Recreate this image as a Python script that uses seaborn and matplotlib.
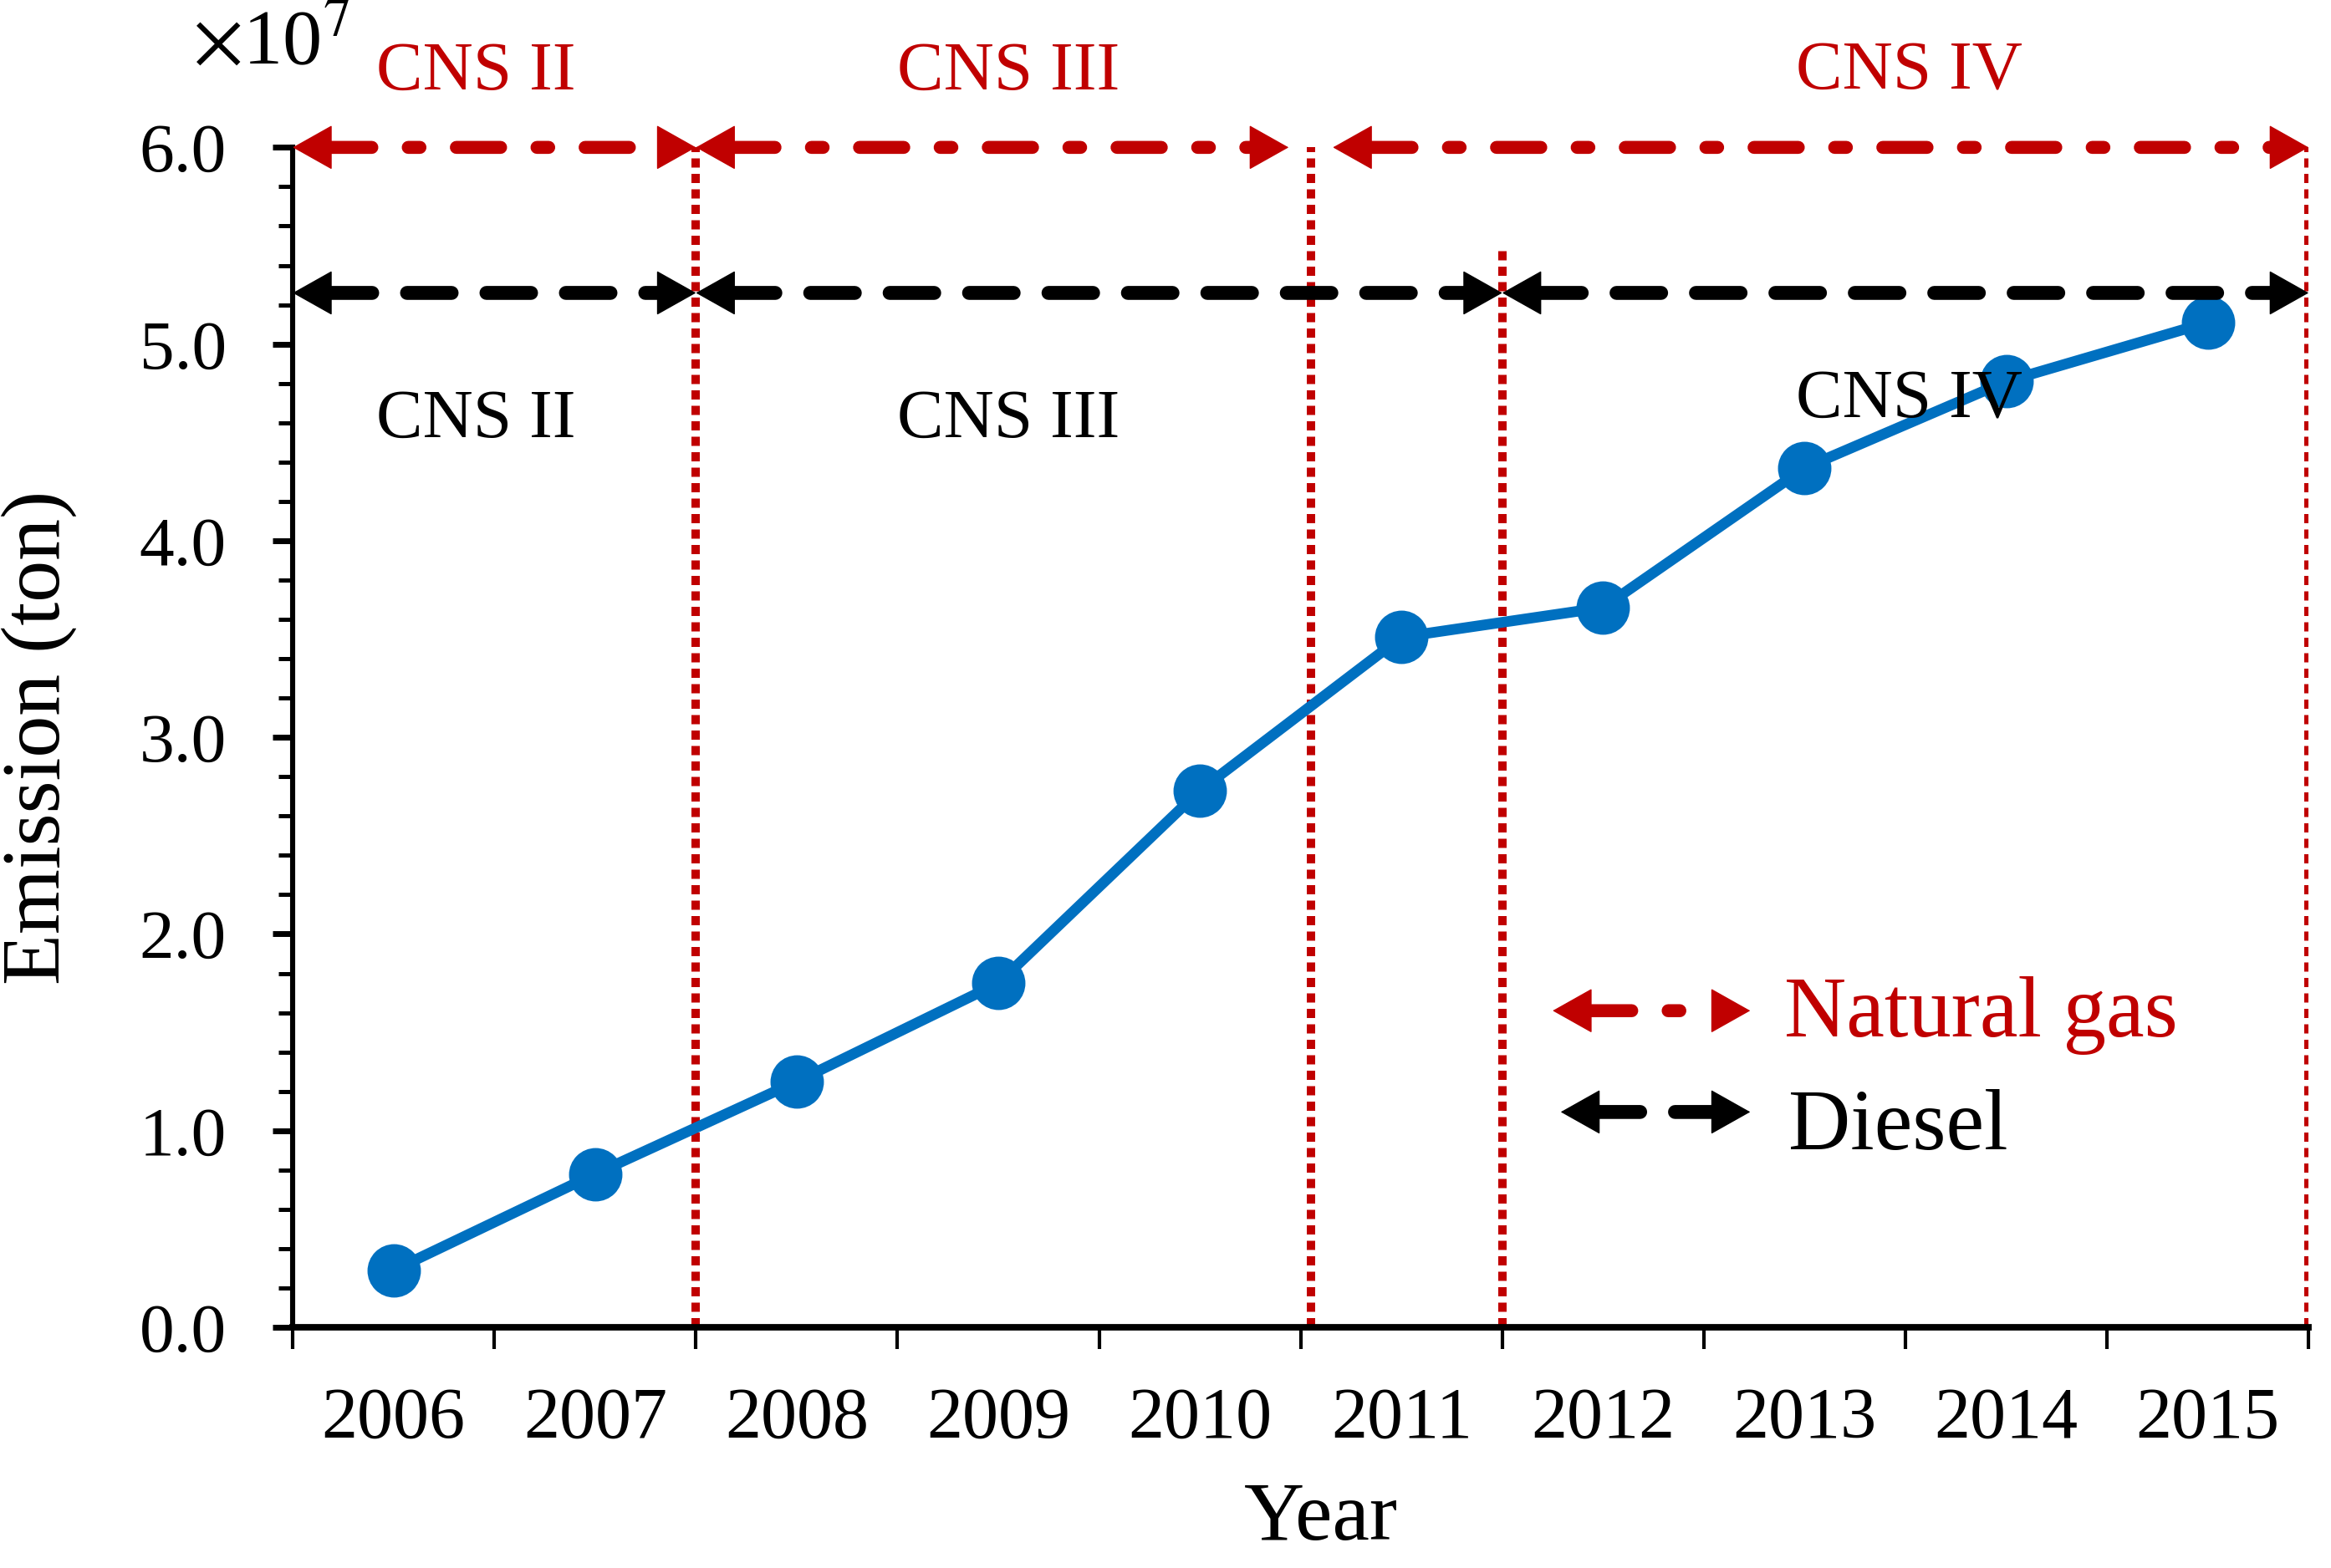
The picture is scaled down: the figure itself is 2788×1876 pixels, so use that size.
import numpy as np
import pandas as pd
import matplotlib.pyplot as plt
import seaborn as sns

# ----------------------------
# DATA
# ----------------------------

years = ['2006', '2007', '2008', '2009', '2010',
         '2011', '2012', '2013', '2014', '2015']
emission = [0.29, 0.78, 1.25, 1.75, 2.73, 3.51, 3.66, 4.37, 4.81, 5.11]  # x 10^7 ton

stages = ['CNS II', 'CNS III', 'CNS IV']
stage_label_x = [0.41, 3.05, 7.52]

# stage boundaries in year-slot units (between two years = x.5)
gas_bounds = [-0.5, 1.5, 4.55, 9.5]
diesel_bounds = [-0.5, 1.5, 5.5, 9.5]
gas_level = 6.0
diesel_level = 5.26

df = pd.DataFrame({'Year': years, 'Emission': emission})

# ----------------------------
# STYLE
# ----------------------------

sns.set_style('ticks')
plt.rcParams['font.family'] = ['Liberation Serif', 'DejaVu Serif']
plt.rcParams['mathtext.fontset'] = 'stix'
for key in ['text.color', 'axes.labelcolor', 'xtick.color', 'ytick.color', 'axes.edgecolor']:
    plt.rcParams[key] = 'black'

RED = '#C00000'
BLUE = '#0070C0'
GAS_DASH = (3.4, 2.8, 0.9, 2.8)
DIESEL_DASH = (3.2, 2.5)


def double_arrow(ax, x0, x1, y, color, dashes, lw=5.6, hl=16, hw=9):
    # dashed body, shortened by the head length at both ends
    ax.annotate('', xy=(x1, y), xytext=(x0, y), annotation_clip=False,
                arrowprops=dict(arrowstyle='-', color=color, lw=lw,
                                linestyle=(0, dashes), shrinkA=hl - 1, shrinkB=hl - 1))
    # solid heads
    for tip, back in ((x0, hl), (x1, -hl)):
        ax.annotate('', xy=(tip, y), xytext=(back, 0), textcoords='offset points',
                    annotation_clip=False,
                    arrowprops=dict(arrowstyle=f'-|>,head_length={hl},head_width={hw}',
                                    mutation_scale=1, color=color, lw=0.5,
                                    shrinkA=0, shrinkB=0))


fig = plt.figure(figsize=(13.94, 9.38), dpi=200)
ax = fig.add_axes([0.1256, 0.1535, 0.8648, 0.7525])

# ----------------------------
# EMISSION LINE
# ----------------------------

sns.lineplot(data=df, x=df.index, y='Emission', ax=ax, color=BLUE,
             linewidth=4.6, marker='o', markersize=23, markeredgewidth=0, zorder=3)

# ----------------------------
# STAGE LINES AND ARROWS
# ----------------------------

ax.vlines(gas_bounds[1:], 0, gas_level, colors=RED, linewidths=3.6,
          linestyles=[(0, (1.1, 0.75))], zorder=1)
ax.vlines(diesel_bounds[2], 0, 5.5, colors=RED, linewidths=3.6,
          linestyles=[(0, (1.1, 0.75))], zorder=1)

gap = 0.11
for i in range(3):
    a, b = gas_bounds[i], gas_bounds[i + 1]
    if i == 1:
        b -= gap
    if i == 2:
        a += gap
    double_arrow(ax, a, b, gas_level, RED, GAS_DASH)

for i in range(3):
    double_arrow(ax, diesel_bounds[i], diesel_bounds[i + 1], diesel_level,
                 'black', DIESEL_DASH, lw=6.0)

for name, x in zip(stages, stage_label_x):
    ax.text(x, 6.38, name, color=RED, fontsize=30, ha='center', va='center')
    ax.text(x, 4.71 if name == 'CNS IV' else 4.61, name, color='black',
            fontsize=30, ha='center', va='center')

# legend drawn by hand
double_arrow(ax, 5.75, 6.73, 1.61, RED, GAS_DASH)
double_arrow(ax, 5.79, 6.73, 1.095, 'black', DIESEL_DASH, lw=6.0)
ax.text(6.90, 1.48, 'Natural gas', color=RED, fontsize=37, va='baseline')
ax.text(6.92, 0.906, 'Diesel', color='black', fontsize=37, va='baseline')

# ----------------------------
# AXES
# ----------------------------

ax.set_xlim(-0.5, 9.5)
ax.set_ylim(0, 6.0)

ax.set_xticks(range(len(years)))
ax.set_xticklabels(years)
ax.set_xticks(np.arange(-0.5, len(years), 1), minor=True)
ax.tick_params(axis='x', which='major', length=0, pad=25.5, labelsize=31)
ax.tick_params(axis='x', which='minor', length=9.4, width=1.5, direction='out')

ax.set_yticks(range(7))
ax.set_yticklabels([f'{v:.1f}' for v in range(7)])
ax.yaxis.set_minor_locator(plt.MultipleLocator(0.2))
ax.tick_params(axis='y', which='major', length=8.6, width=2.5, pad=20, labelsize=30)
ax.tick_params(axis='y', which='minor', length=6, width=1.8)

sns.despine(ax=ax)
ax.spines['left'].set_linewidth(2.2)
ax.spines['bottom'].set_linewidth(2.8)

ax.set_xlabel('Year', fontsize=36)
ax.set_ylabel('Emission (ton)', fontsize=36)
ax.xaxis.set_label_coords(0.51, -0.131)
ax.yaxis.set_label_coords(-0.107, 0.5)

ax.text(-0.05, 1.087, r'$\times$10$^{7}$', transform=ax.transAxes,
        fontsize=34, ha='left', va='center')

fig.savefig('out.png', dpi=200, facecolor='white')
